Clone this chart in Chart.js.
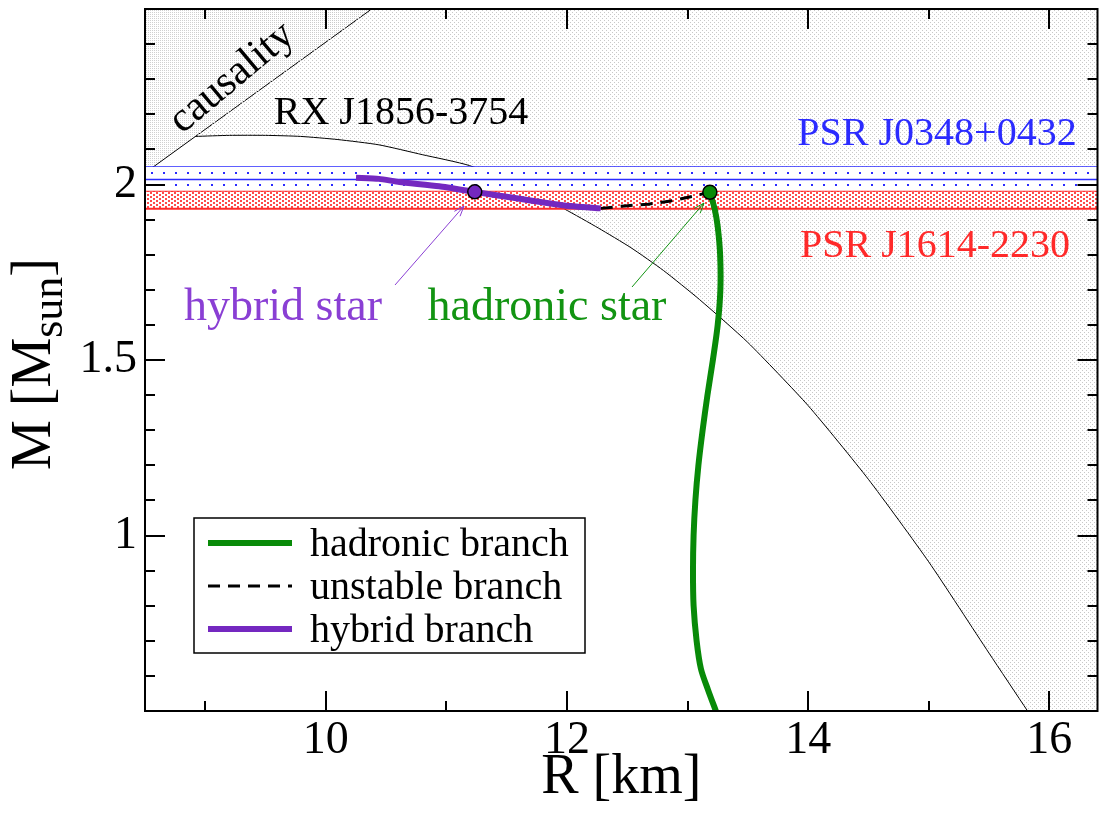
<!DOCTYPE html>
<html>
<head>
<meta charset="utf-8">
<script src="https://cdn.jsdelivr.net/npm/chart.js@4.4.1/dist/chart.umd.min.js"></script>
<style>
  html, body { margin: 0; padding: 0; background: #fff; }
</style>
</head>
<body>
<canvas id="c" width="1106" height="816"></canvas>
<script>
const FONT = '"Liberation Serif", "Times New Roman", serif';

// axes
const xRange = [8.5, 16.4];
const yRange = [0.5, 2.5];
const xMajor = [10, 12, 14, 16];
const xMinor = [9, 11, 13, 15];
const yMajor = [1, 1.5, 2];
const yMinor = [0.6, 0.7, 0.8, 0.9, 1.1, 1.2, 1.3, 1.4, 1.6, 1.7, 1.8, 1.9, 2.1, 2.2, 2.3, 2.4];

// constraints
const causalityR = [8.5, 10.38];
const causalityM = [2.033, 2.5];
const rxR = [8.92, 9.2, 9.5, 9.79, 10.1, 10.44, 10.8, 11.19, 11.6, 11.98, 12.26, 12.53, 12.8, 13.1, 13.5, 14.0, 14.5, 15.0, 15.5, 15.82];
const rxM = [2.137, 2.14, 2.14, 2.137, 2.128, 2.113, 2.085, 2.054, 1.995, 1.93, 1.876, 1.82, 1.755, 1.672, 1.55, 1.37, 1.16, 0.925, 0.665, 0.5];
const j0348M = [1.97, 2.014, 2.05];   // low, central, high
const j1614M = [1.931, 1.979];        // low, high

// branches
const hadronicR = [13.235, 13.17, 13.111, 13.075, 13.05, 13.045, 13.05, 13.065, 13.09, 13.125, 13.165, 13.21, 13.25, 13.272, 13.27, 13.25, 13.225, 13.185];
const hadronicM = [0.5, 0.56, 0.62, 0.7, 0.8, 0.9, 1.0, 1.1, 1.2, 1.3, 1.4, 1.5, 1.6, 1.7, 1.8, 1.88, 1.93, 1.978];
const unstableR = [12.28, 12.48, 12.67, 12.86, 13.05, 13.185];
const unstableM = [1.932, 1.939, 1.944, 1.953, 1.967, 1.978];
const hybridR = [10.25, 10.44, 10.61, 10.94, 11.235, 11.54, 11.98, 12.28];
const hybridM = [2.019, 2.016, 2.007, 1.995, 1.979, 1.963, 1.94, 1.932];
const starR = [11.235, 13.185];
const starM = [1.979, 1.978];

const GREEN = '#088a08', PURPLE = '#7428c0', BLUE = '#2b2bff', RED = '#ff2a2a';

function pts(rs, ms) { return rs.map((r, i) => ({ x: r, y: ms[i] })); }
function flat(m) { return [{ x: xRange[0], y: m }, { x: xRange[1], y: m }]; }

const cv = document.getElementById('c');
const cx = cv.getContext('2d');
function pattern(w, h, bg, color, dots) {
  const c = document.createElement('canvas');
  c.width = w; c.height = h;
  const g = c.getContext('2d');
  if (bg) { g.fillStyle = bg; g.fillRect(0, 0, w, h); }
  g.fillStyle = color;
  dots.forEach(d => g.fillRect(d[0], d[1], d[2] || 1, d[3] || 1));
  return cx.createPattern(c, 'repeat');
}
const grayLight = pattern(4, 4, null, '#c8c8c8', [[0, 0], [2, 2]]);
const grayDense = pattern(2, 2, null, '#d0d0d0', [[0, 0]]);
const bluePat = pattern(12, 12, '#fff', BLUE, [[7, 4, 2, 2]]);
const redPat = pattern(6, 4, '#fff', '#ff4a4a', [[0, 0, 2, 2], [3, 2, 2, 2]]);

function line(label, data, o) {
  return Object.assign({ label, data, showLine: true, pointRadius: 0, borderWidth: 1, borderColor: '#000',
    backgroundColor: 'transparent', fill: false, tension: 0, clip: 0 }, o);
}

const datasets = [
  line('causality', pts(causalityR, causalityM), { fill: 'end', backgroundColor: grayDense, order: 20 }),
  line('rx-fill', pts(rxR, rxM).concat([{ x: 17, y: 0.5 }]), { fill: 'end', backgroundColor: grayLight, borderWidth: 0, order: 19 }),
  line('RX J1856-3754', pts(rxR, rxM), { tension: 0.2, order: 18 }),
  line('j0348-hi', flat(j0348M[2]), { borderColor: BLUE, borderWidth: 1.5, order: 17 }),
  line('j0348-lo', flat(j0348M[0]), { borderColor: BLUE, borderWidth: 1.5, fill: '-1', backgroundColor: bluePat, order: 16 }),
  line('j1614-hi', flat(j1614M[1]), { borderColor: RED, borderWidth: 2, order: 15 }),
  line('j1614-lo', flat(j1614M[0]), { borderColor: RED, borderWidth: 2, fill: '-1', backgroundColor: redPat, order: 14 }),
  line('j0348-mid', flat(j0348M[1]), { borderColor: BLUE, borderWidth: 1.5, order: 13 }),
  line('unstable branch', pts(unstableR, unstableM), { borderWidth: 3, borderDash: [12, 8], order: 5 }),
  line('hybrid branch', pts(hybridR, hybridM), { borderColor: PURPLE, borderWidth: 6, tension: 0.2, order: 4 }),
  line('hadronic branch', pts(hadronicR, hadronicM), { borderColor: GREEN, borderWidth: 6, tension: 0.3, order: 3 }),
  { label: 'stars', data: pts(starR, starM), showLine: false, pointRadius: 7, pointBorderWidth: 1.5,
    pointBorderColor: '#000', pointBackgroundColor: [PURPLE, GREEN], order: 1, clip: 0 },
];

const legendOrder = ['hadronic branch', 'unstable branch', 'hybrid branch'];

const frameTicks = {
  id: 'frameTicks',
  afterDatasetsDraw(chart) {
    const { ctx, chartArea: a, scales: { x, y } } = chart;
    ctx.save();
    ctx.strokeStyle = '#000';
    ctx.lineWidth = 2;
    ctx.beginPath();
    const tick = (v, len, horiz) => {
      if (horiz) {
        const p = Math.round(x.getPixelForValue(v));
        ctx.moveTo(p, a.bottom); ctx.lineTo(p, a.bottom - len);
        ctx.moveTo(p, a.top); ctx.lineTo(p, a.top + len);
      } else {
        const p = Math.round(y.getPixelForValue(v));
        ctx.moveTo(a.left, p); ctx.lineTo(a.left + len, p);
        ctx.moveTo(a.right, p); ctx.lineTo(a.right - len, p);
      }
    };
    xMajor.forEach(v => tick(v, 20, true));
    xMinor.forEach(v => tick(v, 10, true));
    yMajor.forEach(v => tick(v, 20, false));
    yMinor.forEach(v => tick(v, 10, false));
    ctx.stroke();
    ctx.strokeRect(a.left, a.top, a.right - a.left, a.bottom - a.top);
    ctx.restore();
  }
};

function arrow(ctx, x0, y0, x1, y1, color) {
  ctx.strokeStyle = color;
  ctx.lineWidth = 1;
  ctx.beginPath();
  ctx.moveTo(x0, y0); ctx.lineTo(x1, y1);
  const t = Math.atan2(y1 - y0, x1 - x0);
  [t + Math.PI - 0.35, t + Math.PI + 0.35].forEach(u => {
    ctx.moveTo(x1, y1); ctx.lineTo(x1 + 11 * Math.cos(u), y1 + 11 * Math.sin(u));
  });
  ctx.stroke();
}

const labels = {
  id: 'labels',
  afterDraw(chart) {
    const ctx = chart.ctx;
    ctx.save();
    ctx.textAlign = 'center';
    ctx.textBaseline = 'alphabetic';
    ctx.font = '40px ' + FONT;
    ctx.fillStyle = '#000';
    ctx.fillText('RX J1856-3754', 401, 124);
    ctx.fillStyle = BLUE;
    ctx.fillText('PSR J0348+0432', 937, 145);
    ctx.fillStyle = RED;
    ctx.fillText('PSR J1614-2230', 935, 257);

    ctx.save();
    ctx.translate(232, 78);
    ctx.rotate(-40 * Math.PI / 180);
    ctx.fillStyle = '#000';
    ctx.textBaseline = 'middle';
    ctx.font = '42px ' + FONT;
    ctx.fillText('causality', 0, 0);
    ctx.restore();

    ctx.font = '46px ' + FONT;
    ctx.fillStyle = '#8a3fd4';
    ctx.fillText('hybrid star', 283, 320);
    ctx.fillStyle = '#129412';
    ctx.fillText('hadronic star', 547, 320);

    arrow(ctx, 395, 285, 464, 206, '#8a3fd4');
    arrow(ctx, 632, 287, 704, 203, '#129412');

    // y axis title with subscript
    ctx.save();
    ctx.translate(40, 364);
    ctx.rotate(-Math.PI / 2);
    ctx.fillStyle = '#000';
    ctx.textAlign = 'left';
    const big = '56px ' + FONT, small = '44px ' + FONT;
    ctx.font = big; const w1 = ctx.measureText('M [M').width, w3 = ctx.measureText(']').width;
    ctx.font = small; const w2 = ctx.measureText('sun').width;
    let s = -(w1 + w2 + w3) / 2;
    ctx.font = big; ctx.fillText('M [M', s, 10);
    ctx.font = small; ctx.fillText('sun', s + w1, 22);
    ctx.font = big; ctx.fillText(']', s + w1 + w2, 10);
    ctx.restore();

    // legend box
    const box = { l: 194, t: 518, r: 585, b: 653 };
    ctx.fillStyle = '#fff';
    ctx.fillRect(box.l, box.t, box.r - box.l, box.b - box.t);
    ctx.strokeStyle = '#000';
    ctx.lineWidth = 1.5;
    ctx.strokeRect(box.l, box.t, box.r - box.l, box.b - box.t);
    ctx.font = '40px ' + FONT;
    ctx.textAlign = 'left';
    legendOrder.forEach((name, i) => {
      const ds = chart.data.datasets.find(d => d.label === name);
      const yy = 543 + i * 43;
      ctx.beginPath();
      ctx.strokeStyle = ds.borderColor;
      ctx.lineWidth = ds.borderWidth;
      ctx.setLineDash(ds.borderDash || []);
      ctx.moveTo(208, yy); ctx.lineTo(292, yy);
      ctx.stroke();
      ctx.setLineDash([]);
      ctx.fillStyle = '#000';
      ctx.fillText(name, 310, yy + 13);
    });
    ctx.restore();
  }
};

new Chart(cv, {
  type: 'scatter',
  data: { datasets },
  options: {
    responsive: false,
    animation: false,
    events: [],
    layout: { padding: { top: 9, right: 3, left: 0, bottom: 0 } },
    plugins: { legend: { display: false }, tooltip: { enabled: false } },
    scales: {
      x: {
        type: 'linear', min: xRange[0], max: xRange[1],
        afterBuildTicks: s => { s.ticks = xMajor.map(v => ({ value: v })); },
        afterFit: s => { s.height = 105; s.paddingLeft = 0; s.paddingRight = 0; },
        grid: { display: false, drawTicks: false },
        border: { display: false },
        ticks: { color: '#000', font: { family: FONT, size: 46 }, padding: 2, maxRotation: 0, autoSkip: false, callback: v => String(v) },
        title: { display: true, text: 'R [km]', color: '#000', font: { family: FONT, size: 56 }, padding: { top: 0, bottom: 4 } },
      },
      y: {
        type: 'linear', min: yRange[0], max: yRange[1],
        afterBuildTicks: s => { s.ticks = yMajor.map(v => ({ value: v })); },
        afterFit: s => { s.width = 145; s.paddingTop = 0; s.paddingBottom = 0; },
        grid: { display: false, drawTicks: false },
        border: { display: false },
        ticks: { color: '#000', font: { family: FONT, size: 46 }, padding: 8, autoSkip: false, callback: v => String(v) },
      },
    },
  },
  plugins: [frameTicks, labels],
});
</script>
</body>
</html>
